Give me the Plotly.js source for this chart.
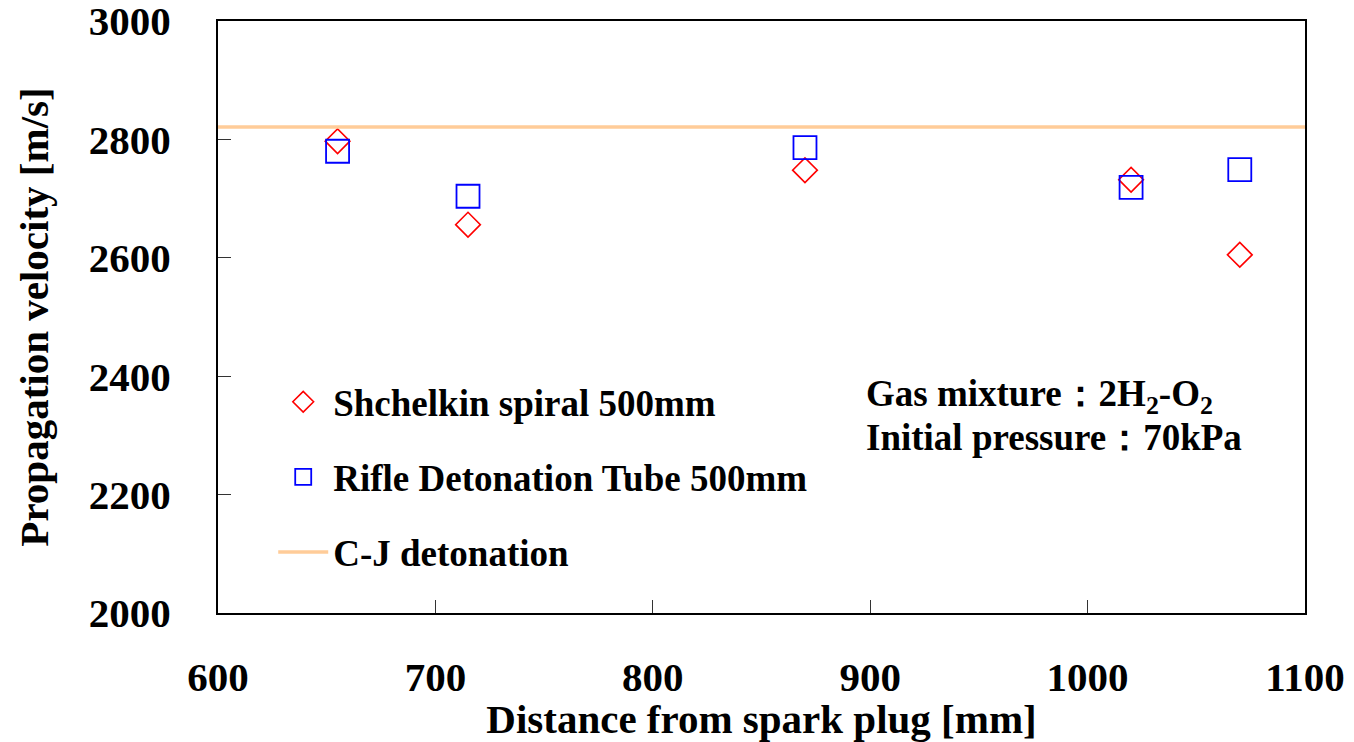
<!DOCTYPE html>
<html>
<head>
<meta charset="utf-8">
<script src="https://cdn.plot.ly/plotly-3.0.1.min.js"></script>
<style>
  html, body { margin: 0; padding: 0; background: #ffffff; }
  #chart { width: 1354px; height: 742px; }
</style>
</head>
<body>
<div id="chart"></div>
<script>
// Measured propagation velocity along the tube
const distanceSpiral = [655, 715, 870, 1020, 1070];          // mm
const velocitySpiral = [2797, 2656, 2748, 2732, 2605];       // m/s
const distanceRifle = [655, 715, 870, 1020, 1070];           // mm
const velocityRifle = [2780, 2704, 2786, 2719, 2749];        // m/s
const cjRange = [600, 1100];                                 // mm
const cjVelocity = 2821;                                     // m/s

const xTicks = [600, 700, 800, 900, 1000, 1100];
const yTicks = [2000, 2200, 2400, 2600, 2800, 3000];

const FONT = 'Liberation Serif, Times New Roman, serif';

const traces = [
  {
    x: distanceSpiral, y: velocitySpiral,
    type: 'scatter', mode: 'markers',
    name: 'Shchelkin spiral 500mm',
    legendgroup: 'a',
    marker: { symbol: 'diamond-open', size: 19, color: '#ff0000', line: { width: 1.6, color: '#ff0000' } }
  },
  {
    x: distanceRifle, y: velocityRifle,
    type: 'scatter', mode: 'markers',
    name: 'Rifle Detonation Tube 500mm',
    legendgroup: 'b',
    marker: { symbol: 'square-open', size: 23, color: '#0000ff', line: { width: 1.8, color: '#0000ff' } }
  },
  {
    x: cjRange, y: cjRange.map(() => cjVelocity),
    type: 'scatter', mode: 'lines',
    name: 'C-J detonation',
    legendgroup: 'c',
    line: { color: '#ffcc99', width: 3.5 }
  }
];

const axisCommon = {
  showgrid: false, zeroline: false,
  showline: true, linecolor: '#000000', linewidth: 2, mirror: true,
  ticks: 'inside', ticklen: 13, tickwidth: 1, tickcolor: '#333333',
  ticklabeloverflow: 'allow',
  tickfont: { family: FONT, size: 41, color: '#000000', weight: 'bold' }
};

const layout = {
  width: 1354, height: 742,
  paper_bgcolor: '#ffffff', plot_bgcolor: '#ffffff',
  margin: { l: 218, r: 49, t: 21, b: 129 },
  showlegend: true,
  legend: {
    x: 0.0508, y: 0.4085, xanchor: 'left', yanchor: 'top',
    bgcolor: 'rgba(0,0,0,0)',
    font: { family: FONT, size: 37, color: '#000000', weight: 'bold' },
    tracegroupgap: 24,
    itemwidth: 50
  },
  xaxis: Object.assign({}, axisCommon, {
    range: [600, 1100], tickvals: xTicks, ticktext: xTicks.map(String),
    ticklabelstandoff: 27,
    title: { text: 'Distance from spark plug [mm]', standoff: 7,
             font: { family: FONT, size: 41, color: '#000000', weight: 'bold' } }
  }),
  yaxis: Object.assign({}, axisCommon, {
    range: [2000, 3000], tickvals: yTicks, ticktext: yTicks.map(String),
    ticklabelstandoff: 37,
    title: { text: 'Propagation velocity [m/s]', standoff: 27,
             font: { family: FONT, size: 41, color: '#000000', weight: 'bold' } }
  }),
  annotations: [
    {
      xref: 'paper', yref: 'paper', x: 0.594, y: 0.366, xanchor: 'left', yanchor: 'middle',
      text: 'Gas mixture：2H<sub>2</sub>-O<sub>2</sub>', showarrow: false,
      font: { family: FONT, size: 37, color: '#000000', weight: 'bold' }
    },
    {
      xref: 'paper', yref: 'paper', x: 0.594, y: 0.2965, xanchor: 'left', yanchor: 'middle',
      text: 'Initial pressure：70kPa', showarrow: false,
      font: { family: FONT, size: 37, color: '#000000', weight: 'bold' }
    }
  ]
};

Plotly.newPlot('chart', traces, layout, { staticPlot: true, displayModeBar: false });
</script>
</body>
</html>
